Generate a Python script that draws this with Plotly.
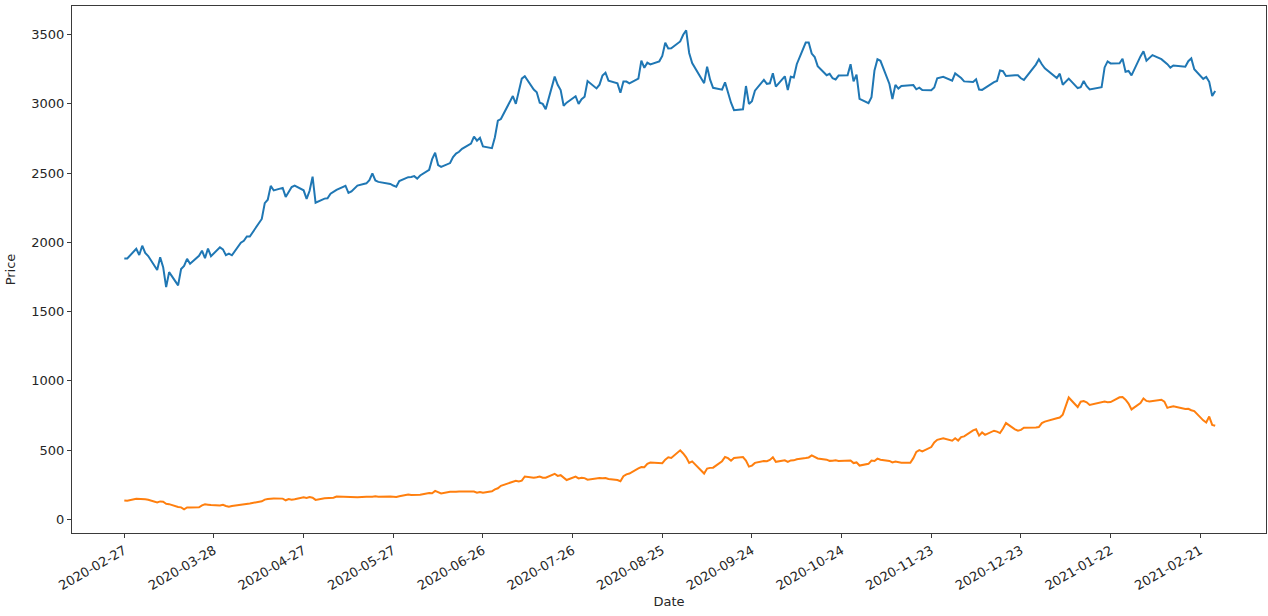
import plotly.graph_objects as go

# Trading dates (2020-02-27 .. 2021-02-26), grouped by month
dates = (
    ["2020-02-27", "2020-02-28"]
    + ["2020-03-%02d" % d for d in [2, 3, 4, 5, 6, 9, 10, 11, 12, 13, 16, 17, 18, 19, 20, 23, 24, 25, 26, 27, 30, 31]]
    + ["2020-04-%02d" % d for d in [1, 2, 3, 6, 7, 8, 9, 13, 14, 15, 16, 17, 20, 21, 22, 23, 24, 27, 28, 29, 30]]
    + ["2020-05-%02d" % d for d in [1, 4, 5, 6, 7, 8, 11, 12, 13, 14, 15, 18, 19, 20, 21, 22, 26, 27, 28, 29]]
    + ["2020-06-%02d" % d for d in [1, 2, 3, 4, 5, 8, 9, 10, 11, 12, 15, 16, 17, 18, 19, 22, 23, 24, 25, 26, 29, 30]]
    + ["2020-07-%02d" % d for d in [1, 2, 6, 7, 8, 9, 10, 13, 14, 15, 16, 17, 20, 21, 22, 23, 24, 27, 28, 29, 30, 31]]
    + ["2020-08-%02d" % d for d in [3, 4, 5, 6, 7, 10, 11, 12, 13, 14, 17, 18, 19, 20, 21, 24, 25, 26, 27, 28, 31]]
    + ["2020-09-%02d" % d for d in [1, 2, 3, 4, 8, 9, 10, 11, 14, 15, 16, 17, 18, 21, 22, 23, 24, 25, 28, 29, 30]]
    + ["2020-10-%02d" % d for d in [1, 2, 5, 6, 7, 8, 9, 12, 13, 14, 15, 16, 19, 20, 21, 22, 23, 26, 27, 28, 29, 30]]
    + ["2020-11-%02d" % d for d in [2, 3, 4, 5, 6, 9, 10, 11, 12, 13, 16, 17, 18, 19, 20, 23, 24, 25, 27, 30]]
    + ["2020-12-%02d" % d for d in [1, 2, 3, 4, 7, 8, 9, 10, 11, 14, 15, 16, 17, 18, 21, 22, 23, 24, 28, 29, 30, 31]]
    + ["2021-01-%02d" % d for d in [4, 5, 6, 7, 8, 11, 12, 13, 14, 15, 19, 20, 21, 22, 25, 26, 27, 28, 29]]
    + ["2021-02-%02d" % d for d in [1, 2, 3, 4, 5, 8, 9, 10, 11, 12, 16, 17, 18, 19, 22, 23, 24, 25, 26]]
)

series_a = [
    1884.30, 1883.75,
    1953.95, 1908.99, 1975.83, 1924.03, 1901.09, 1800.61, 1891.82, 1820.86, 1676.61, 1785.00, 1689.15,
    1807.84, 1830.00, 1880.93, 1846.09, 1902.83, 1940.10, 1885.84, 1955.49, 1900.10, 1963.95, 1949.72,
    1907.70, 1918.83, 1906.59, 1997.59, 2011.60, 2043.00, 2042.76, 2168.87, 2283.32, 2307.68, 2408.19,
    2375.00, 2393.61, 2328.12, 2363.49, 2399.45, 2410.22, 2376.00, 2314.08, 2372.71, 2474.00,
    2286.04, 2315.99, 2317.80, 2351.26, 2367.61, 2379.61, 2409.00, 2356.95, 2367.92, 2388.85, 2409.78,
    2426.26, 2449.33, 2497.94, 2446.74, 2436.88, 2421.86, 2410.39, 2401.10, 2442.37,
    2471.04, 2472.41, 2478.40, 2460.60, 2483.00, 2524.06, 2600.86, 2647.45, 2557.96, 2545.02, 2572.68,
    2615.27, 2640.98, 2653.98, 2675.01, 2713.82, 2764.41, 2734.40, 2754.58, 2692.87, 2680.38, 2758.82,
    2878.70, 2890.30, 3057.04, 3000.12, 3081.11, 3182.63, 3200.00, 3104.00, 3084.00, 3008.87, 2999.90,
    2961.97, 3196.84, 3138.29, 3099.91, 2986.55, 3008.91, 3055.21, 3000.33, 3033.53, 3051.88, 3164.68,
    3111.89, 3138.83, 3205.03, 3225.00, 3167.46, 3148.16, 3080.67, 3162.24, 3161.02, 3148.02, 3182.41,
    3312.49, 3260.48, 3297.37, 3284.72, 3307.46, 3346.49, 3441.85, 3400.00, 3401.80, 3450.96,
    3499.12, 3531.45, 3368.00, 3294.62, 3149.84, 3268.61, 3175.11, 3116.22, 3102.97, 3156.13, 3078.10,
    3008.73, 2954.91, 2960.47, 3128.99, 2999.86, 3019.79, 3095.13, 3174.05, 3144.88, 3148.73,
    3221.26, 3125.00, 3199.20, 3099.96, 3195.69, 3190.55, 3286.65, 3442.93, 3443.63, 3363.71, 3338.65,
    3272.71, 3207.21, 3217.01, 3184.94, 3176.40, 3204.40, 3207.04, 3286.33, 3162.78, 3211.01, 3036.15,
    3004.48, 3048.41, 3241.16, 3322.00, 3311.37, 3143.74, 3035.02, 3137.39, 3110.28, 3128.81, 3131.06,
    3135.66, 3105.46, 3117.02, 3099.40, 3098.39, 3118.06, 3185.07, 3195.34, 3168.04,
    3220.08, 3203.53, 3186.73, 3162.58, 3158.00, 3177.29, 3104.20, 3101.49, 3116.42, 3156.97, 3165.12,
    3240.96, 3236.08, 3201.65, 3206.18, 3206.52, 3185.27, 3172.69, 3283.96, 3322.00, 3285.85, 3256.93,
    3186.63, 3218.51, 3138.38, 3162.16, 3182.70, 3114.21, 3120.83, 3165.89, 3127.47, 3104.25, 3120.76,
    3263.38, 3306.99, 3292.23, 3294.00, 3326.13, 3232.58, 3237.62, 3206.20,
    3342.88, 3380.00, 3312.53, 3331.00, 3352.15, 3322.94, 3305.00, 3286.58, 3262.13, 3277.71, 3268.95,
    3308.64, 3328.23, 3249.90, 3180.74, 3194.50, 3159.53, 3057.16, 3092.93,
]

series_b = [
    135.80, 133.60,
    148.72, 149.10, 149.90, 144.91, 140.70, 121.60, 129.07, 126.85, 112.11, 109.32, 89.01,
    86.04, 72.24, 85.53, 85.51, 86.86, 101.00, 107.85, 105.63, 102.87, 100.43, 104.80,
    96.31, 90.89, 96.00, 103.25, 109.09, 109.77, 114.60, 130.19, 141.98, 145.97, 149.04,
    150.78, 149.27, 137.34, 146.42, 141.13, 145.03, 159.75, 153.82, 160.10, 156.38,
    140.26, 152.24, 153.64, 156.52, 156.01, 163.88, 162.26, 161.88, 158.19, 160.67, 159.83,
    162.73, 161.60, 163.11, 165.52, 163.38, 163.77, 164.05, 161.16, 167.00,
    179.62, 176.31, 176.59, 172.88, 177.13, 189.98, 188.13, 205.01, 194.57, 187.06, 198.18,
    196.43, 198.36, 200.79, 200.18, 198.86, 200.36, 192.17, 197.20, 191.95, 201.87, 215.96,
    223.93, 241.73, 274.32, 277.97, 273.18, 278.86, 308.93, 299.41, 303.36, 309.20, 300.13,
    300.17, 328.60, 313.67, 318.47, 302.61, 283.40, 307.92, 295.30, 299.82, 297.50, 286.15,
    297.00, 297.40, 297.00, 297.92, 290.54, 283.71, 274.88, 310.95, 324.20, 330.14, 367.13,
    377.42, 375.71, 400.37, 410.00, 402.84, 404.67, 430.63, 447.75, 442.68, 498.32,
    475.05, 447.37, 407.00, 418.32, 330.21, 366.28, 371.34, 372.72, 419.62, 449.76, 441.76,
    423.43, 442.15, 449.39, 424.23, 380.36, 387.79, 407.34, 421.20, 419.07, 429.01,
    448.16, 415.09, 425.68, 413.98, 425.30, 425.92, 434.00, 442.30, 446.65, 461.30, 448.88,
    439.67, 430.83, 421.94, 422.64, 425.79, 420.63, 420.28, 424.68, 406.02, 410.83, 388.04,
    400.51, 423.90, 420.98, 438.09, 429.95, 421.26, 410.36, 417.13, 411.76, 408.50, 408.09,
    441.61, 486.64, 499.27, 489.61, 521.85, 555.38, 574.00, 585.76, 567.60,
    584.76, 568.82, 593.38, 599.04, 641.76, 649.88, 604.48, 627.07, 609.99, 639.83, 633.25,
    622.77, 655.90, 695.00, 649.86, 640.34, 645.98, 661.77, 663.69, 665.99, 694.78, 705.67,
    729.77, 735.11, 755.98, 816.04, 880.02, 811.19, 849.44, 854.41, 845.00, 826.16, 844.55,
    850.45, 844.99, 846.64, 880.80, 883.09, 864.16, 835.43, 793.53,
    839.81, 872.79, 854.69, 849.99, 852.23, 863.42, 849.46, 804.82, 811.66, 816.12, 796.22,
    798.15, 787.38, 781.30, 714.50, 698.84, 742.02, 682.22, 675.50,
]

x_ticks = ["2020-02-27", "2020-03-28", "2020-04-27", "2020-05-27", "2020-06-26", "2020-07-26",
           "2020-08-25", "2020-09-24", "2020-10-24", "2020-11-23", "2020-12-23", "2021-01-22",
           "2021-02-21"]
y_ticks = [0, 500, 1000, 1500, 2000, 2500, 3000, 3500]

assert len(dates) == len(series_a) == len(series_b), (len(dates), len(series_a), len(series_b))

fig = go.Figure()
fig.add_trace(go.Scatter(x=dates, y=series_a, mode="lines",
                         line=dict(color="#1f77b4", width=2)))
fig.add_trace(go.Scatter(x=dates, y=series_b, mode="lines",
                         line=dict(color="#ff7f0e", width=2)))

axis_common = dict(showline=True, linecolor="#3a3a3a", linewidth=1.2, mirror=True,
                   ticks="outside", ticklen=4, tickcolor="#3a3a3a", tickwidth=1,
                   showgrid=False, zeroline=False, automargin=False)

fig.update_layout(
    width=1268, height=616,
    margin=dict(l=72, r=2, t=6, b=83),
    paper_bgcolor="white", plot_bgcolor="white",
    showlegend=False,
    font=dict(family="DejaVu Sans", size=13, color="#262626"),
    xaxis=dict(type="date", range=["2020-02-09 12:00", "2021-03-15 00:00"],
               tickvals=x_ticks, ticktext=x_ticks, tickangle=-30,
               title=dict(text="Date", standoff=4, font=dict(size=13)), **axis_common),
    yaxis=dict(range=[-99, 3707], tickvals=y_ticks,
               ticktext=[str(v) for v in y_ticks],
               title=dict(text="Price", standoff=12, font=dict(size=13)), **axis_common),
)

fig.write_html("out.html", config={"displayModeBar": False},
               post_script="document.body.style.margin='0';document.body.style.overflow='hidden';")
